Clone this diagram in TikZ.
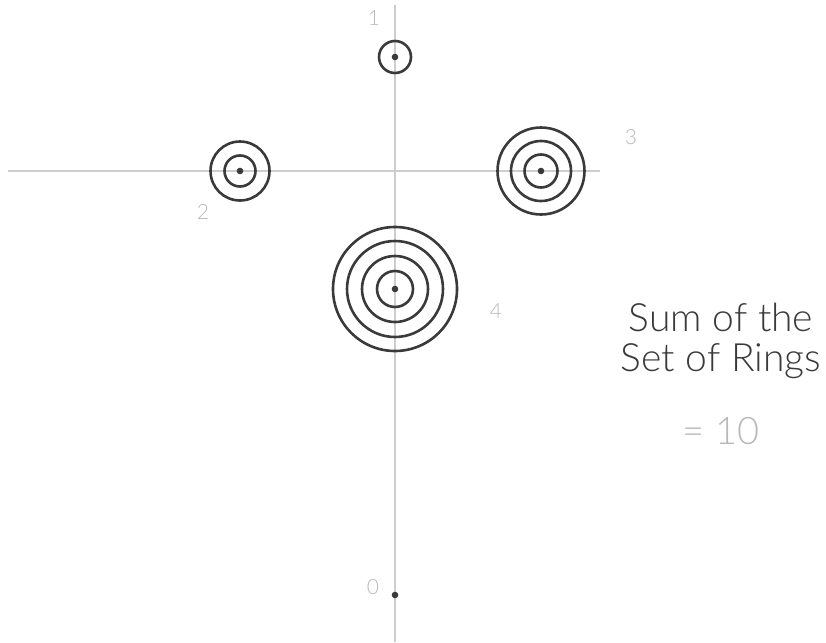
\documentclass[tikz,border=0pt]{standalone}
\usepackage{fontspec}
\setmainfont{TeX Gyre Heros}
\newfontfamily\lightfont{Lato Light}
\usetikzlibrary{positioning}
\definecolor{ringgray}{RGB}{58,58,58}
\definecolor{axisgray}{RGB}{205,205,205}
\definecolor{labelgray}{RGB}{185,185,185}

\begin{document}
\begin{tikzpicture}[x=1pt, y=-1pt,
    axis/.style={draw=axisgray, line width=1.1pt},
    ring/.style={draw=ringgray, line width=2.6pt},
    hub/.style={fill=ringgray},
    num/.style={text=labelgray, font=\lightfont\fontsize{21}{21}\selectfont, inner sep=0pt},
    sumtext/.style={text=ringgray, font=\lightfont\fontsize{39}{39}\selectfont, inner sep=0pt, anchor=base}]
    \useasboundingbox (0,0) rectangle (826,642);
    % axes
    \coordinate (top) at (395,5);
    \coordinate (bottom) at (395,642);
    \coordinate (left) at (8,171);
    \coordinate (right) at (600,171);
    \draw[axis] (top) -- (bottom);
    \draw[axis] (left) -- (right);
    % ring centres
    \coordinate (t0) at (395,595);
    \coordinate (t1) at (395,57);
    \coordinate (t2) at (240,171);
    \coordinate (t3) at (541,171);
    \coordinate (t4) at (395,289);
    \foreach \r in {16} \draw[ring] (t1) circle (\r);
    \foreach \r in {15.5,29.5} \draw[ring] (t2) circle (\r);
    \foreach \r in {16.5,30,43.5} \draw[ring] (t3) circle (\r);
    \foreach \r in {18,33,48,62} \draw[ring] (t4) circle (\r);
    \foreach \t in {t0,t1,t2,t3,t4} \fill[hub] (\t) circle (3.3);
    % labels
    \node[num] (n0) at (373,587) {0};
    \node[num] (n1) at (374,18) {1};
    \node[num] (n2) at (203,212) {2};
    \node[num] (n3) at (631,137) {3};
    \node[num] (n4) at (496,311) {4};
    \node[sumtext] (sum1) at (721,331) {Sum of the};
    \node[sumtext] (sum2) at (721,371) {Set of Rings};
    \node[sumtext, text=labelgray, font=\lightfont\fontsize{38}{38}\selectfont] (total) at (721,444) {= 10};
\end{tikzpicture}
\end{document}
